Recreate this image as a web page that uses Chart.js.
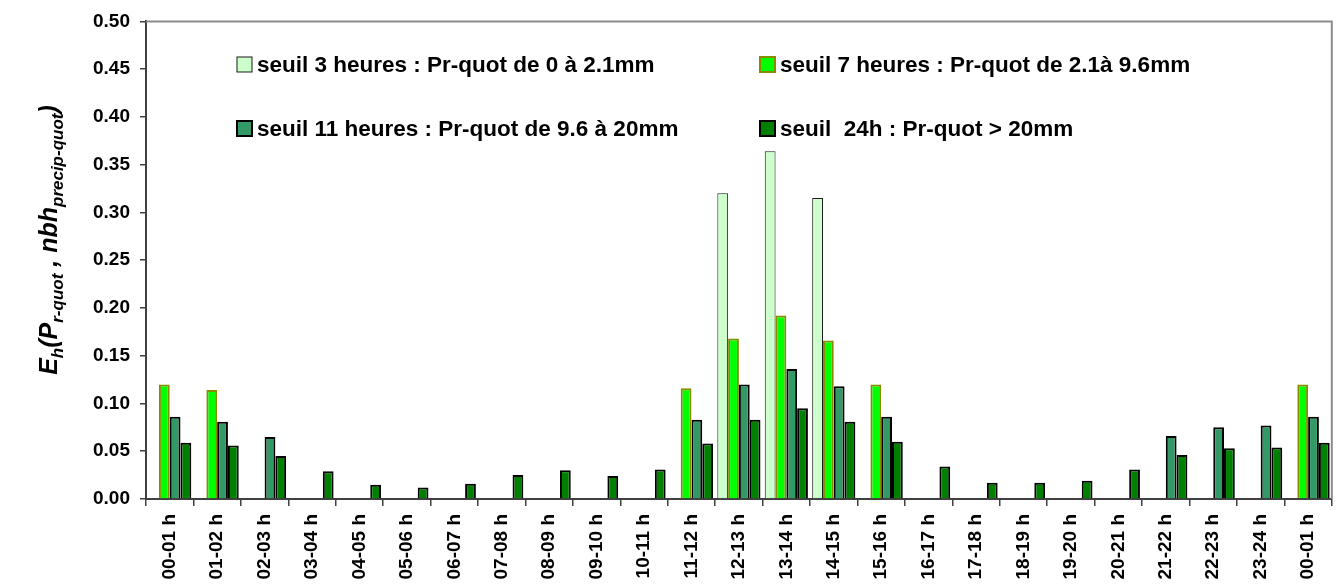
<!DOCTYPE html>
<html>
<head>
<meta charset="utf-8">
<script src="https://cdn.jsdelivr.net/npm/chart.js@4"></script>
<style>
  html, body { margin: 0; padding: 0; background: #fff; }
</style>
</head>
<body>
<canvas id="chart" width="1339" height="588"></canvas>
<script>
const hours = ['00-01 h', '01-02 h', '02-03 h', '03-04 h', '04-05 h', '05-06 h', '06-07 h', '07-08 h',
  '08-09 h', '09-10 h', '10-11 h', '11-12 h', '12-13 h', '13-14 h', '14-15 h', '15-16 h', '16-17 h',
  '17-18 h', '18-19 h', '19-20 h', '20-21 h', '21-22 h', '22-23 h', '23-24 h', '00-01 h'];

const seuil3h = [0, 0, 0, 0, 0, 0, 0, 0, 0, 0, 0, 0, 0.320, 0.364, 0.315, 0, 0, 0, 0, 0, 0, 0, 0, 0, 0];
const seuil7h = [0.120, 0.114, 0, 0, 0, 0, 0, 0, 0, 0, 0, 0.116, 0.168, 0.192, 0.166, 0.120, 0, 0, 0, 0, 0, 0, 0, 0, 0.120];
const seuil11h = [0.086, 0.081, 0.065, 0, 0, 0, 0, 0, 0, 0, 0, 0.083, 0.120, 0.136, 0.118, 0.086, 0, 0, 0, 0, 0, 0.066, 0.075, 0.077, 0.086];
const seuil24h = [0.059, 0.056, 0.045, 0.029, 0.015, 0.012, 0.016, 0.025, 0.030, 0.024, 0.031, 0.058, 0.083, 0.095, 0.081, 0.060,
  0.034, 0.017, 0.017, 0.019, 0.031, 0.046, 0.053, 0.054, 0.059];

const legendLabels = [
  'seuil 3 heures : Pr-quot de 0 à 2.1mm',
  'seuil 7 heures : Pr-quot de 2.1à 9.6mm',
  'seuil 11 heures : Pr-quot de 9.6 à 20mm',
  'seuil  24h : Pr-quot > 20mm'
];

const FONT = '"Liberation Sans", Arial, sans-serif';

// legend drawn by hand, 2 x 2 grid like the original
const legendPlugin = {
  id: 'gridLegend',
  afterDraw(chart) {
    const ctx = chart.ctx;
    const spots = [[237, 72], [760, 72], [237, 136], [760, 136]];
    ctx.save();
    chart.data.datasets.forEach((ds, i) => {
      const [x, y] = spots[i];
      ctx.fillStyle = ds.backgroundColor;
      ctx.fillRect(x, y - 15, 15, 15);
      ctx.lineWidth = ds.borderWidth;
      ctx.strokeStyle = ds.borderColor;
      ctx.strokeRect(x, y - 15, 15, 15);
      ctx.fillStyle = '#000';
      ctx.font = 'bold 22.5px ' + FONT;
      ctx.textBaseline = 'alphabetic';
      ctx.fillText(ds.label, x + 20, y);
    });
    ctx.restore();
  }
};

// y title with subscripts
const yTitlePlugin = {
  id: 'yTitle',
  afterDraw(chart) {
    const ctx = chart.ctx;
    const parts = [['E', 0], ['h', 1], ['(P', 0], ['r-quot', 1], [' , nbh', 0], ['precip-quot', 1], [')', 0]];
    const big = 'italic bold 25px ' + FONT;
    const small = 'italic bold 17px ' + FONT;
    let total = 0;
    parts.forEach(p => { ctx.font = p[1] ? small : big; total += ctx.measureText(p[0]).width; });
    ctx.save();
    ctx.translate(57, 240);
    ctx.rotate(-Math.PI / 2);
    ctx.fillStyle = '#000';
    ctx.textBaseline = 'alphabetic';
    let cx = -total / 2;
    parts.forEach(p => {
      ctx.font = p[1] ? small : big;
      ctx.fillText(p[0], cx, p[1] ? 6 : 0);
      cx += ctx.measureText(p[0]).width;
    });
    ctx.restore();
  }
};

// grey frame on top and right of the plot area
const framePlugin = {
  id: 'frame',
  afterDatasetsDraw(chart) {
    const { ctx, chartArea } = chart;
    ctx.save();
    ctx.strokeStyle = '#8c8c8c';
    ctx.lineWidth = 2;
    ctx.beginPath();
    ctx.moveTo(chartArea.left, chartArea.top);
    ctx.lineTo(chartArea.right, chartArea.top);
    ctx.lineTo(chartArea.right, chartArea.bottom);
    ctx.stroke();
    ctx.restore();
  }
};

new Chart(document.getElementById('chart'), {
  type: 'bar',
  data: {
    labels: hours,
    datasets: [
      { label: legendLabels[0], data: seuil3h, backgroundColor: '#CCFFCC', borderColor: '#1a1a1a', borderWidth: 1 },
      { label: legendLabels[1], data: seuil7h, backgroundColor: '#00FF00', borderColor: '#8a8a00', borderWidth: 2 },
      { label: legendLabels[2], data: seuil11h, backgroundColor: '#339966', borderColor: '#000000', borderWidth: 2 },
      { label: legendLabels[3], data: seuil24h, backgroundColor: '#008000', borderColor: '#000000', borderWidth: 2 },
    ],
  },
  options: {
    responsive: false,
    animation: false,
    categoryPercentage: 0.91,
    barPercentage: 1,
    layout: { padding: { top: 19, right: 5, left: 0, bottom: 0 } },
    plugins: {
      legend: { display: false },
      tooltip: { enabled: false },
    },
    scales: {
      x: {
        afterFit: scale => { scale.height = 89; },
        border: { color: '#404040', width: 2 },
        grid: { drawOnChartArea: false, tickLength: 7, color: '#404040', lineWidth: 1.5 },
        ticks: {
          color: '#000',
          font: { family: FONT, size: 19, weight: 'bold' },
          minRotation: 90,
          maxRotation: 90,
          padding: 8,
          autoSkip: false,
        },
      },
      y: {
        min: 0,
        max: 0.5,
        afterFit: scale => { scale.width = 146; },
        border: { color: '#404040', width: 2 },
        grid: { drawOnChartArea: false, tickLength: 6, color: '#404040', lineWidth: 1.5 },
        ticks: {
          stepSize: 0.05,
          color: '#000',
          font: { family: FONT, size: 19, weight: 'bold' },
          padding: 10,
          callback: v => v.toFixed(2),
        },
      },
    },
  },
  plugins: [legendPlugin, yTitlePlugin, framePlugin],
});
</script>
</body>
</html>
